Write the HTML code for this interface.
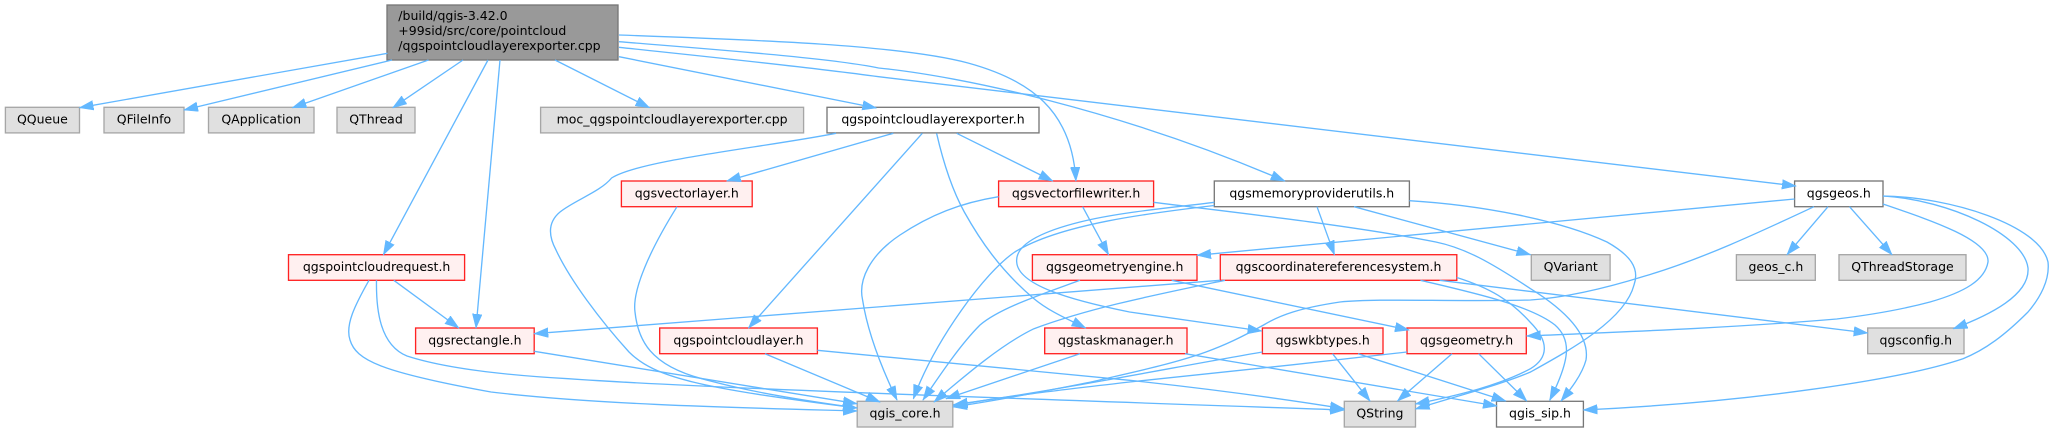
<!DOCTYPE html>
<html><head><meta charset="utf-8"><style>
html,body{margin:0;padding:0;background:#fff;width:2054px;height:432px;overflow:hidden}
svg{display:block}
rect{stroke-width:1.33}
.g{fill:#e0e0e0;stroke:#a6a6a6}
.w{fill:#fff;stroke:#777}
.r{fill:#fff0f0;stroke:#f22}
text{font-family:"DejaVu Sans",sans-serif;font-size:12.5px;fill:#000;text-anchor:middle}
path{fill:none;stroke:#63b8ff;stroke-width:1.33;marker-end:url(#a)}
</style></head><body>
<svg xmlns="http://www.w3.org/2000/svg" width="2054" height="432" viewBox="0 0 2054 432">
<defs><marker id="a" markerUnits="userSpaceOnUse" markerWidth="15" markerHeight="12" refX="14" refY="5" orient="auto"><polygon points="0,0.2 14,5 0,9.8" fill="#63b8ff" stroke="#63b8ff" stroke-width="0.6"/></marker></defs>

<rect x="387" y="5" width="231" height="55" fill="#999" stroke="#777"/>
<text x="398.3" y="20" style="text-anchor:start">/build/qgis-3.42.0</text>
<text x="398.3" y="35" style="text-anchor:start">+99sid/src/core/pointcloud</text>
<text x="398.3" y="50" style="text-anchor:start">/qgspointcloudlayerexporter.cpp</text>

<rect class="g" x="5.4" y="107.3" width="74.1" height="25.6"/><text x="42.4" y="123.6">QQueue</text>
<rect class="g" x="104" y="107.3" width="80" height="25.6"/><text x="144" y="123.6">QFileInfo</text>
<rect class="g" x="208.5" y="107.3" width="105.5" height="25.6"/><text x="261.2" y="123.6">QApplication</text>
<rect class="g" x="337" y="107.3" width="78" height="25.6"/><text x="376" y="123.6">QThread</text>
<rect class="g" x="540.6" y="107.3" width="263" height="25.6"/><text x="672.1" y="123.6">moc_qgspointcloudlayerexporter.cpp</text>
<rect class="w" x="827" y="107.3" width="212" height="25.6"/><text x="933" y="123.6">qgspointcloudlayerexporter.h</text>

<rect class="r" x="621.4" y="181" width="130.8" height="25.7"/><text x="686.8" y="197.3">qgsvectorlayer.h</text>
<rect class="r" x="998.6" y="181" width="155" height="25.7"/><text x="1076.1" y="197.3">qgsvectorfilewriter.h</text>
<rect class="w" x="1214.3" y="181" width="195.1" height="25.7"/><text x="1311.8" y="197.3">qgsmemoryproviderutils.h</text>
<rect class="w" x="1794.6" y="181" width="88.4" height="25.7"/><text x="1838.8" y="197.3">qgsgeos.h</text>

<rect class="r" x="288.5" y="254.7" width="176.1" height="25.6"/><text x="376.6" y="271">qgspointcloudrequest.h</text>
<rect class="r" x="1032.4" y="254.7" width="164.6" height="25.6"/><text x="1114.7" y="271">qgsgeometryengine.h</text>
<rect class="r" x="1220.3" y="254.7" width="236.5" height="25.6"/><text x="1338.5" y="271">qgscoordinatereferencesystem.h</text>
<rect class="g" x="1531.3" y="254.7" width="78.8" height="25.6"/><text x="1570.7" y="271">QVariant</text>
<rect class="g" x="1736.4" y="254.7" width="78.9" height="25.6"/><text x="1775.9" y="271">geos_c.h</text>
<rect class="g" x="1839" y="254.7" width="127" height="25.6"/><text x="1902.5" y="271">QThreadStorage</text>

<rect class="r" x="415.6" y="328" width="118.6" height="25.7"/><text x="474.9" y="344.3">qgsrectangle.h</text>
<rect class="r" x="659.7" y="328" width="157.7" height="25.7"/><text x="738.5" y="344.3">qgspointcloudlayer.h</text>
<rect class="r" x="1044.7" y="328" width="142.3" height="25.7"/><text x="1115.8" y="344.3">qgstaskmanager.h</text>
<rect class="r" x="1262.4" y="328" width="120.6" height="25.7"/><text x="1322.7" y="344.3">qgswkbtypes.h</text>
<rect class="r" x="1407" y="328" width="119.3" height="25.7"/><text x="1466.6" y="344.3">qgsgeometry.h</text>
<rect class="g" x="1867.7" y="328" width="96.3" height="25.7"/><text x="1915.8" y="344.3">qgsconfig.h</text>

<rect class="g" x="857.2" y="401.3" width="95.6" height="25.7"/><text x="905" y="417.6">qgis_core.h</text>
<rect class="g" x="1344.3" y="401.3" width="71.2" height="25.7"/><text x="1379.9" y="417.6">QString</text>
<rect class="w" x="1496.5" y="401.3" width="86.9" height="25.7"/><text x="1540" y="417.6">qgis_sip.h</text>

<path d="M387.5,53.3L79.5,107.7"/>
<path d="M392,60L184,110"/>
<path d="M428.5,60L292.4,107.7"/>
<path d="M463,60L392.8,107.7"/>
<path d="M555,60L649.5,107.7"/>
<path d="M619,56.7L876.3,108"/>
<path d="M619,35C760,40 900,45 968,63C1030,80 1072,110 1075.9,181"/>
<path d="M619,41.7C720,50 830,58 878.6,68C960,76 1120,110 1284.8,181"/>
<path d="M619,47.3C700,56 800,66 878.6,76.7L1796,186"/>
<path d="M488,60L383.4,254.7"/>
<path d="M500,60L476,328"/>

<path d="M836,133.3C760,148 640,160 611.6,178C600,192 575,200 560,212C548,222 548,235 556,250C570,280 600,320 629,352C655,378 700,388 857,408"/>
<path d="M893.3,133.3L726.8,181"/>
<path d="M922.3,133.3L748.5,328"/>
<path d="M936.6,133.3C945,170 955,195 964.3,212C980,240 1000,270 1034,298.7C1050,312 1070,320 1085.6,328"/>
<path d="M956.7,133.3L1052.7,181"/>

<path d="M677,206.7C650,250 632,290 635,312C638,340 650,365 701.8,378.7C750,392 800,400 857,408"/>

<path d="M393.8,280.3L458.8,328"/>
<path d="M369,280.3C355,305 345,325 350,340C356,360 380,372 491,392C600,405 750,408 857,411"/>
<path d="M376.5,280.3C376,310 380,345 407,356C450,370 520,376 568,378.7C700,388 1000,398 1344.3,410"/>

<path d="M534.2,351.3L857,403.7"/>
<path d="M765,353.7L880,402"/>
<path d="M817.4,350.3C900,358 1000,367 1129.6,380.3C1220,390 1290,400 1344,408.7"/>

<path d="M998.6,196.7C960,203 930,215 900,235C870,255 858,280 862.6,300C868,335 885,375 897,400"/>
<path d="M1082.6,206.7L1108.6,254.7"/>
<path d="M1153.6,202.3C1230,212 1350,225 1435.8,242C1465,248 1490,262 1530.5,288.7C1565,310 1590,335 1586,360C1582,375 1570,390 1561,401"/>

<path d="M1214.3,202.3C1170,208 1120,212 1080,222C1040,232 1015,245 1016.7,262C1018,285 1070,300 1129.6,312L1261.6,331"/>
<path d="M1214.3,205.5C1150,213 1060,224 1014.8,252C985,272 935,340 913.4,398.7"/>
<path d="M1317,206.7L1334.4,254.7"/>
<path d="M1354,206.7L1530.5,254.7"/>
<path d="M1409.4,200.7C1480,205 1560,220 1607,242C1630,255 1640,268 1634,285C1625,320 1570,350 1530.5,372C1500,385 1460,395 1415.5,409"/>

<path d="M1794.6,199L1197,255.3"/>
<path d="M1814,206.7C1760,232 1700,260 1645,276C1600,290 1560,298 1530.5,300C1450,302 1380,298 1340,302C1300,308 1280,315 1263.6,325C1240,338 1225,345 1206,352C1170,365 1120,375 1091,382C1040,392 1000,400 953,407"/>
<path d="M1828,206.7L1787,254.7"/>
<path d="M1849.5,206.7L1892,254.7"/>
<path d="M1883,204C1930,220 1990,240 1988,262C1985,280 1965,292 1930,302C1900,310 1870,315 1836.7,319C1730,328 1620,332 1526.7,336"/>
<path d="M1883,196C1950,200 2024,235 2028,268C2030,295 1990,315 1953.4,328.7"/>
<path d="M1883,196C1950,197 2040,225 2048,262C2050,280 2040,298 2028,312C2005,335 1985,350 1963,358.7C1900,380 1750,402 1583.4,410"/>

<path d="M1220,280.3L534.2,333.7"/>
<path d="M1225,280.3C1150,296 1090,308 1034,328.7C1000,345 960,380 934,402"/>
<path d="M1456.8,277.5C1490,288 1510,300 1530,322C1550,342 1548,358 1530.5,368.7C1500,385 1460,395 1415.5,404"/>
<path d="M1420.5,280.3C1470,292 1530,305 1555,325C1572,340 1570,360 1549.7,400.3"/>
<path d="M1439.6,280.3L1867.7,333"/>

<path d="M1080,280.3C1040,295 1000,308 980,325C960,345 940,375 923,400"/>
<path d="M1171.7,280.3L1409,330"/>

<path d="M1079.9,353.7L946,398.7"/>
<path d="M1185,353.7L1497,406"/>

<path d="M1262.4,352C1180,366 1050,392 953.6,404.7"/>
<path d="M1332.5,353.7L1370,401"/>
<path d="M1358,353.7L1505.7,401"/>

<path d="M1407,352C1320,362 1200,375 1129.6,382C1060,390 1000,397 953.6,405.6"/>
<path d="M1452,353.7L1397.5,401"/>
<path d="M1478.6,353.7L1526.7,401"/>
</svg>
</body></html>
